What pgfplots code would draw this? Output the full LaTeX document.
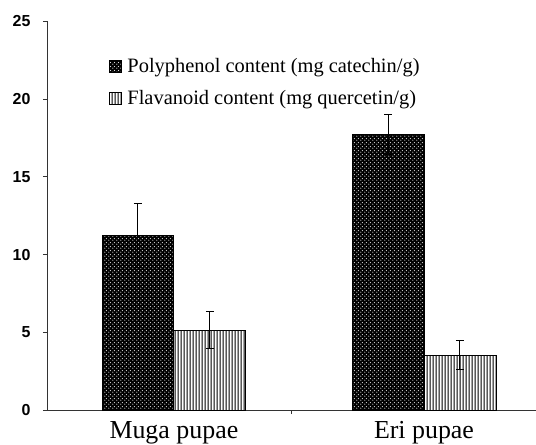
\documentclass[border=0pt]{standalone}
\usepackage{fontspec}
\setmainfont{Liberation Serif}
\newfontfamily\arialfont{Liberation Sans}
\usepackage{pgfplots}
\pgfplotsset{compat=1.18}
\usetikzlibrary{patterns,patterns.meta}
\tikzdeclarepattern{
  name=myvlines, type=uncolored,
  bottom left={(0bp,0bp)}, top right={(3bp,3bp)}, tile size={(3bp,3bp)},
  code={\draw[line width=1.3bp] (1.5bp,-1bp) -- (1.5bp,4bp);}
}
\tikzdeclarepattern{
  name=mydots, type=uncolored,
  bottom left={(0bp,0bp)}, top right={(4bp,4bp)}, tile size={(4bp,4bp)},
  code={\fill (1bp,1bp) circle (0.75bp); \fill (3bp,3bp) circle (0.75bp);}
}

\begin{document}
\begin{tikzpicture}
\begin{axis}[
  name=ax, at={(0,0)}, anchor=south west,
  width=489bp, height=388.5bp, scale only axis,
  xmin=0, xmax=2, ymin=0, ymax=25,
  axis lines*=left,
  axis line style={line width=1bp, color=black!80},
  tick style={line width=1bp, color=black!80},
  tick align=outside,
  major tick length=4bp,
  /pgf/number format/assume math mode=true,
  ytick={0,5,...,25},
  yticklabel style={font=\fontsize{16}{18}\selectfont\arialfont\bfseries, xshift=-9bp},
  xtick={1}, xticklabels={},
  extra x ticks={0.519,1.542},
  extra x tick labels={Muga pupae, Eri pupae},
  extra x tick style={major tick length=0pt, tick label style={font=\fontsize{26}{30}\selectfont, yshift=-8bp}},
  legend image code/.code={\draw[#1, line width=0.6bp] (0bp,-6bp) rectangle (12bp,6bp);},
  legend style={at={(0.12,0.915)}, anchor=north west, draw=none, fill=none,
    font=\fontsize{20.5}{24}\selectfont, row sep=12bp, cells={anchor=west},
    /tikz/every odd column/.append style={column sep=4bp}},
  error bars/y dir=both, error bars/y explicit,
  error bars/error mark options={rotate=90, mark size=4bp, line width=1bp, black},
  error bars/error bar style={line width=1bp, black},
]
\addplot[ybar, bar width=0.294, bar shift=0, fill=black, draw=black, line width=0.8bp,
  postaction={pattern=mydots, pattern color=white!85!black}]
  coordinates {(0.372,11.25) +- (0,2.05) (1.395,17.74) +- (0,1.3)};
\addlegendentry{Polyphenol content (mg catechin/g)}
\addplot[ybar, bar width=0.294, bar shift=0, fill=white, draw=black, line width=0.8bp,
  postaction={pattern=myvlines, pattern color=black}]
  coordinates {(0.666,5.14) +- (0,1.18) (1.689,3.53) +- (0,0.95)};
\addlegendentry{Flavanoid content (mg quercetin/g)}
\end{axis}
\pgfresetboundingbox
\path[use as bounding box] (-47bp,-35bp) rectangle (489bp,410bp);
\end{tikzpicture}
\end{document}
